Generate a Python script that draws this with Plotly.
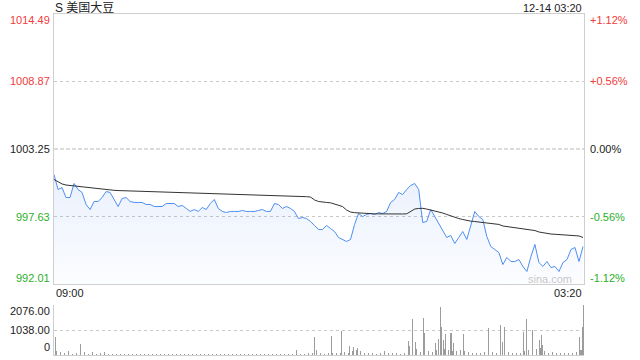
import plotly.graph_objects as go

# ---------------- data ----------------
title_text = "S 美国大豆"
stamp_text = "12-14 03:20"
prev_close = 1003.25
price_ticks = [1014.49, 1008.87, 1003.25, 997.63, 992.01]
pct_labels = ["+1.12%", "+0.56%", "0.00%", "-0.56%", "-1.12%"]
vol_ticks = [2076.00, 1038.00, 0]
vol_tick_labels = ["2076.00", "1038.00", "0"]
time_labels = ["09:00", "03:20"]
session_minutes = 1058
step = 8  # minutes between price samples

price = [
    1001.13, 999.88, 1000.04, 999.21, 999.21, 1000.38, 999.88, 999.63, 998.63, 998.21,
    998.88, 998.88, 999.21, 999.71, 999.63, 999.05, 998.46, 999.13, 999.21, 998.88,
    998.80, 998.80, 998.80, 998.63, 998.63, 998.46, 998.46, 998.46, 998.71, 998.71,
    998.71, 998.46, 998.55, 998.30, 998.05, 998.21, 998.05, 998.38, 998.21, 998.71,
    999.05, 998.30, 998.05, 997.96, 998.05, 998.05, 998.05, 998.13, 998.05, 998.05,
    998.05, 998.13, 998.21, 998.05, 998.05, 998.71, 998.63, 998.30, 998.46, 998.30,
    998.05, 997.46, 997.55, 997.46, 997.22, 996.88, 996.55, 996.55, 996.88, 996.63,
    996.38, 995.88, 995.72, 995.55, 995.72, 996.97, 997.88, 997.63, 997.80, 997.88,
    997.80, 997.96, 997.88, 998.05, 998.80, 999.05, 999.63, 999.46, 999.88, 1000.21,
    1000.38, 999.88, 997.13, 997.22, 998.21, 997.63, 997.05, 996.55, 995.88, 996.05,
    995.38, 995.88, 996.38, 995.72, 996.97, 998.05, 997.63, 997.38, 995.97, 995.13,
    994.88, 994.63, 993.63, 994.22, 993.88, 993.88, 994.05, 993.47, 993.05, 994.30,
    995.30, 993.80, 993.47, 993.88, 993.38, 993.47, 993.05, 993.80, 994.05, 994.88,
    995.05, 993.88, 995.13,
]

avg_price = [
    1000.71, 1000.54, 1000.34, 1000.25, 1000.21, 1000.17, 1000.13, 1000.09, 1000.04, 1000.00,
    999.96, 999.92, 999.88, 999.85, 999.83, 999.81, 999.79, 999.78, 999.76, 999.75,
    999.74, 999.74, 999.73, 999.72, 999.71, 999.70, 999.70, 999.69, 999.68, 999.67,
    999.66, 999.64, 999.63, 999.62, 999.60, 999.60, 999.58, 999.57, 999.55, 999.55,
    999.53, 999.52, 999.51, 999.50, 999.50, 999.49, 999.48, 999.47, 999.46, 999.45,
    999.45, 999.44, 999.43, 999.42, 999.41, 999.40, 999.40, 999.39, 999.38, 999.36,
    999.35, 999.33, 999.31, 999.28, 999.25, 999.01, 998.88, 998.82, 998.80, 998.77,
    998.67, 998.59, 998.46, 998.17, 998.00, 997.95, 997.92, 997.90, 997.88, 997.86,
    997.85, 997.85, 997.84, 997.84, 997.83, 997.83, 997.83, 997.84, 997.85, 998.05,
    998.25, 998.30, 998.31, 998.25, 998.17, 998.11, 998.05, 997.92, 997.80, 997.67,
    997.55, 997.46, 997.38, 997.30, 997.24, 997.21, 997.17, 997.13, 997.09, 997.05,
    997.01, 996.97, 996.84, 996.80, 996.76, 996.72, 996.67, 996.63, 996.59, 996.55,
    996.46, 996.34, 996.27, 996.21, 996.17, 996.15, 996.13, 996.11, 996.10, 996.08,
    996.05, 996.01, 995.88,
]

vol_base = [
    150, 120, 90, 166, 60, 70, 90, 140, 60, 110,
    60, 90, 110, 50, 40, 60, 45, 50, 40, 55,
    40, 35, 50, 45, 40, 60, 40, 35, 45, 50,
    40, 45, 35, 50, 40, 45, 60, 40, 35, 45,
    50, 40, 35, 45, 40, 50, 35, 40, 45, 40,
    35, 45, 40, 50, 45, 60, 50, 40, 45, 55,
    60, 45, 50, 70, 90, 200, 80, 60, 70, 100,
    80, 90, 120, 100, 150, 200, 160, 90, 80, 70,
    60, 80, 150, 90, 70, 80, 60, 90, 150, 180,
    250, 120, 300, 150, 120, 200, 300, 250, 200, 180,
    150, 200, 180, 120, 100, 90, 100, 120, 150, 120,
    100, 150, 200, 120, 90, 80, 100, 150, 200, 150,
    250, 300, 150, 100, 120, 90, 100, 80, 80, 90,
    120, 200, 350,
]
spike_minutes = [2, 52, 484, 520, 554, 574, 590, 598, 606, 708, 710, 716, 722, 738, 740,
                 762, 768, 772, 774, 778, 782, 792, 794, 798, 818, 868, 892, 896, 900,
                 938, 944, 956, 970, 974, 976, 1050, 1054, 1056, 1058]
spike_volume = [734, 373, 166, 734, 790, 1010, 373, 340, 300, 415, 373, 1315, 553, 1522, 622,
                500, 660, 1702, 1150, 622, 870, 900, 900, 480, 870, 955, 1107, 553, 970,
                970, 1494, 870, 622, 830, 415, 761, 1150, 2076, 480]

# ---------------- figure ----------------
times = [i * step for i in range(len(price))]
base_times = [i * step + 4 for i in range(len(vol_base))]

FONT = "Liberation Sans, Arial, Noto Sans CJK SC, sans-serif"
RED = "#f23a3a"
GREEN = "#2ab02a"
BLACK = "#222222"
GRID = "#c8c8c8"
BORDER = "#cfcfcf"

W, H = 640, 360
x0, x1 = 54 / W, 584 / W
main_dom = [1 - 284 / H, 1 - 14 / H]
vol_dom = [1 - 355 / H, 1 - 305 / H]

fig = go.Figure()

fig.add_trace(go.Scatter(
    x=times, y=price, mode="lines",
    line=dict(color="#4d8ff0", width=1),
    fill="tozeroy",
    fillgradient=dict(type="vertical",
                      colorscale=[[0, "rgba(90,140,235,0.02)"], [1, "rgba(90,140,235,0.13)"]],
                      start=price_ticks[-1], stop=max(price)),
    xaxis="x", yaxis="y", hoverinfo="skip",
))
fig.add_trace(go.Scatter(
    x=times, y=avg_price, mode="lines",
    line=dict(color="#333333", width=1),
    xaxis="x", yaxis="y", hoverinfo="skip",
))
fig.add_trace(go.Bar(
    x=base_times + spike_minutes, y=vol_base + spike_volume,
    width=2, marker=dict(color="#9c9c9c", line=dict(width=0)),
    xaxis="x2", yaxis="y2", hoverinfo="skip",
))

# prev-close dashed line
fig.add_shape(type="line", xref="x", yref="y", x0=0, x1=session_minutes,
              y0=prev_close, y1=prev_close, layer="below",
              line=dict(color="#b8b8b8", width=1, dash="4px,2px"))

ann = []
# left price labels
for i, v in enumerate(price_ticks):
    col = RED if v > prev_close else (GREEN if v < prev_close else BLACK)
    ys = -6 if i == 0 else (6 if i == len(price_ticks) - 1 else 0)
    ann.append(dict(xref="paper", yref="y", x=x0, y=v, text=f"{v:.2f}", showarrow=False,
                    xanchor="right", yanchor="middle", xshift=-2, yshift=ys,
                    font=dict(size=11, color=col, family=FONT)))
    ann.append(dict(xref="paper", yref="y", x=x1, y=v, text=pct_labels[i], showarrow=False,
                    xanchor="left", yanchor="middle", xshift=4, yshift=ys,
                    font=dict(size=11, color=col, family=FONT)))
# volume labels
for v, t, ys in zip(vol_ticks, vol_tick_labels, [-6, 0, 8]):
    ann.append(dict(xref="paper", yref="y2", x=x0, y=v, text=t, showarrow=False,
                    xanchor="right", yanchor="middle", xshift=-2, yshift=ys,
                    font=dict(size=11, color=BLACK, family=FONT)))
# title / stamp
ann.append(dict(xref="paper", yref="paper", x=x0, y=1 - 8 / H, text=title_text, showarrow=False,
                xanchor="left", yanchor="middle", xshift=-1,
                font=dict(size=12, color="#222222", family=FONT)))
ann.append(dict(xref="paper", yref="paper", x=x1, y=1 - 8 / H, text=stamp_text, showarrow=False,
                xanchor="right", yanchor="middle",
                font=dict(size=11, color="#222222", family=FONT)))
# time labels
ann.append(dict(xref="paper", yref="paper", x=x0, y=1 - 293 / H, text=time_labels[0], showarrow=False,
                xanchor="left", yanchor="middle",
                font=dict(size=11, color="#222222", family=FONT)))
ann.append(dict(xref="paper", yref="paper", x=x1, y=1 - 293 / H, text=time_labels[1], showarrow=False,
                xanchor="right", yanchor="middle",
                font=dict(size=11, color="#222222", family=FONT)))
# watermark
ann.append(dict(xref="paper", yref="paper", x=574 / W, y=1 - 279 / H, text="sina.com", showarrow=False,
                xanchor="right", yanchor="middle",
                font=dict(size=11, color="#c8c8c8", family=FONT)))

fig.update_layout(
    width=W, height=H,
    margin=dict(l=0, r=0, t=0, b=0),
    paper_bgcolor="white", plot_bgcolor="white",
    showlegend=False, hovermode=False,
    annotations=ann,
    bargap=0,
    xaxis=dict(domain=[x0, x1], range=[0, session_minutes], showgrid=False, zeroline=False,
               showticklabels=False, ticks="", showline=True, mirror=True,
               linecolor=BORDER, linewidth=1, fixedrange=True),
    yaxis=dict(domain=main_dom, range=[price_ticks[-1], price_ticks[0]],
               tickvals=[price_ticks[1], price_ticks[3]], showticklabels=False, ticks="",
               showgrid=True, gridcolor=GRID, griddash="dot", gridwidth=1, zeroline=False,
               showline=True, mirror=True, linecolor=BORDER, linewidth=1, fixedrange=True),
    xaxis2=dict(domain=[x0, x1], range=[0, session_minutes], anchor="y2", showgrid=False,
                zeroline=False, showticklabels=False, ticks="", showline=True,
                linecolor=BORDER, linewidth=1, fixedrange=True),
    yaxis2=dict(domain=vol_dom, range=[0, vol_ticks[0]], anchor="x2",
                tickvals=[vol_ticks[1], vol_ticks[0]], showticklabels=False, ticks="",
                showgrid=True, gridcolor=GRID, griddash="dot", gridwidth=1, zeroline=False,
                showline=True, linecolor=BORDER, linewidth=1, fixedrange=True),
)

fig.write_html("out.html", config={"displayModeBar": False, "staticPlot": True})
